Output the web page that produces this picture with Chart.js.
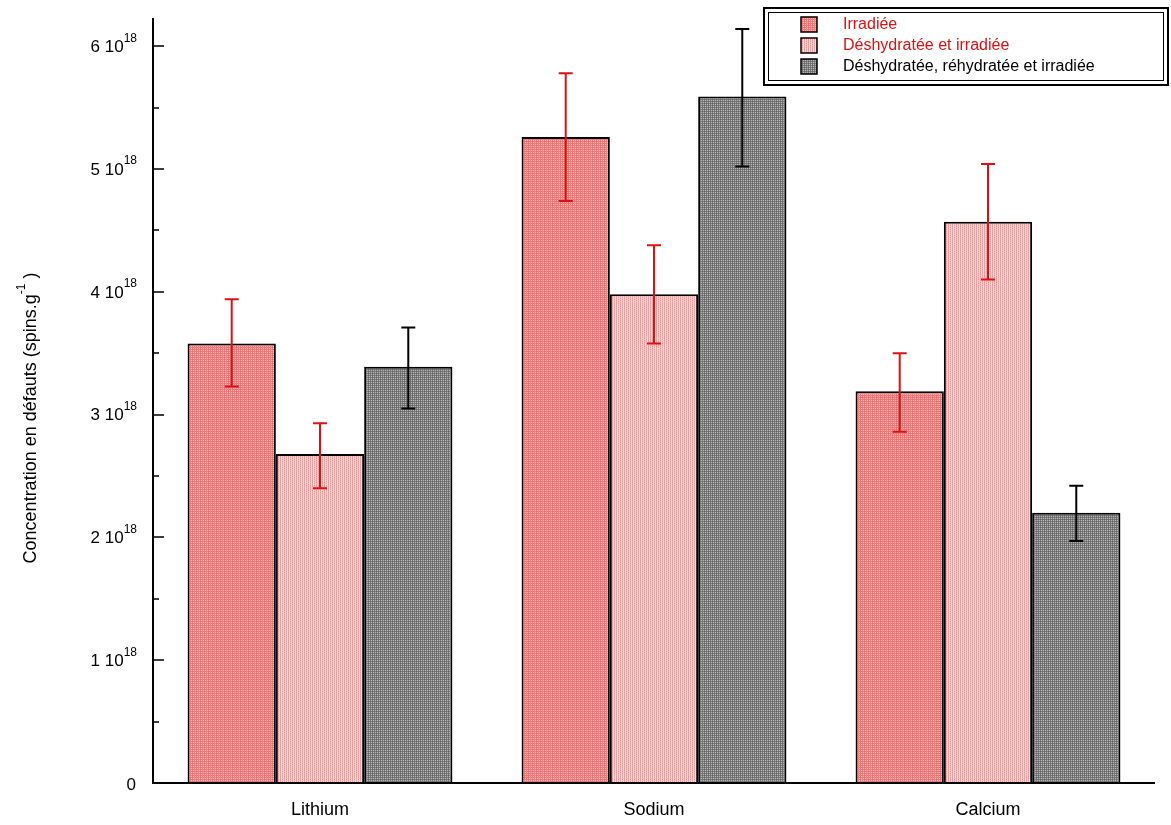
<!DOCTYPE html>
<html>
<head>
<meta charset="utf-8">
<script src="https://cdn.jsdelivr.net/npm/chart.js@4"></script>
<style>
  html, body { margin: 0; padding: 0; background: #fff; }
  #wrap { width: 1171px; height: 825px; }
</style>
</head>
<body>
<div id="wrap"><canvas id="grafik" width="1171" height="825"></canvas></div>
<script>
// donnees (unite : 10^18 spins.g-1)
const categories = ["Lithium", "Sodium", "Calcium"];
const labelsSeries = ["Irradiée", "Déshydratée et irradiée", "Déshydratée, réhydratée et irradiée"];
const irradiee = [3.58, 5.26, 3.19];
const deshydratee = [2.68, 3.98, 4.57];
const rehydratee = [3.39, 5.59, 2.20];
const errIrradiee = [[3.23, 3.94], [4.74, 5.78], [2.86, 3.50]];
const errDeshydratee = [[2.40, 2.93], [3.58, 4.38], [4.10, 5.04]];
const errRehydratee = [[3.05, 3.71], [5.02, 6.14], [1.97, 2.42]];
const tickValues = [0, 1, 2, 3, 4, 5, 6];
const yMax = 6.23;

// motifs de remplissage
function motif(fond, points, pas) {
  let c = document.createElement("canvas");
  c.width = pas; c.height = 2;
  let g = c.getContext("2d");
  g.fillStyle = fond;
  g.fillRect(0, 0, pas, 2);
  for (let p of points) {
    g.fillStyle = p[2];
    g.fillRect(p[0], p[1], 1, 1);
  }
  return g.createPattern(c, "repeat");
}
let ctx = document.getElementById("grafik").getContext("2d");
const fillIrr = motif("#f07c7c", [[1, 0, "#fac4c4"], [3, 0, "#fac4c4"], [0, 1, "#ec6a6a"]], 4);
const fillDesh = motif("#fde4e4", [[0, 0, "#f29494"], [0, 1, "#f4a4a4"], [2, 0, "#f6b4b4"], [2, 1, "#f29494"]], 4);
const fillRehy = motif("#7a7a7a", [[1, 0, "#b4b4b4"], [3, 0, "#b4b4b4"], [0, 1, "#636363"], [2, 1, "#6c6c6c"]], 4);

const couleursTexte = ["#e01010", "#e01010", "#000000"];
const couleursErr = ["#e01010", "#e01010", "#000000"];
const erreurs = [errIrradiee, errDeshydratee, errRehydratee];

const pluginDessin = {
  id: "dessin",
  afterDatasetsDraw(chart) {
    let c = chart.ctx;
    let y = chart.scales.y;
    let area = chart.chartArea;
    c.save();
    // barres d'erreur
    chart.data.datasets.forEach((ds, i) => {
      let meta = chart.getDatasetMeta(i);
      meta.data.forEach((bar, j) => {
        let bas = y.getPixelForValue(erreurs[i][j][0]);
        let haut = y.getPixelForValue(erreurs[i][j][1]);
        c.strokeStyle = couleursErr[i];
        c.lineWidth = 2;
        c.beginPath();
        c.moveTo(bar.x, bas); c.lineTo(bar.x, haut);
        c.moveTo(bar.x - 7, bas); c.lineTo(bar.x + 7, bas);
        c.moveTo(bar.x - 7, haut); c.lineTo(bar.x + 7, haut);
        c.stroke();
      });
    });
    // axes
    c.strokeStyle = "#000";
    c.lineWidth = 2;
    c.beginPath();
    c.moveTo(area.left, area.top); c.lineTo(area.left, area.bottom);
    c.lineTo(area.right, area.bottom);
    c.stroke();
    // graduations
    c.lineWidth = 1.5;
    c.beginPath();
    for (let v = 0; v <= yMax; v += 0.5) {
      let py = Math.round(y.getPixelForValue(v));
      let long = Number.isInteger(v) ? 11 : 6;
      c.moveTo(area.left, py); c.lineTo(area.left + long, py);
    }
    c.stroke();
    // etiquettes de l'axe y
    c.fillStyle = "#000";
    c.textBaseline = "middle";
    for (let v of tickValues) {
      let py = y.getPixelForValue(v);
      if (v === 0) {
        c.font = "17px 'Liberation Sans', Arial, sans-serif";
        c.textAlign = "right";
        c.fillText("0", 136, py + 2);
        continue;
      }
      c.font = "12px 'Liberation Sans', Arial, sans-serif";
      c.textAlign = "left";
      let wSup = c.measureText("18").width;
      c.fillText("18", 137 - wSup, py - 8);
      c.font = "17px 'Liberation Sans', Arial, sans-serif";
      c.textAlign = "right";
      c.fillText(v + " 10", 137 - wSup, py + 1);
    }
    // titre de l'axe y
    c.save();
    c.translate(31, 418);
    c.rotate(-Math.PI / 2);
    let t1 = "Concentration en défauts (spins.g";
    let t2 = ")";
    c.font = "18px 'Liberation Sans', Arial, sans-serif";
    let w1 = c.measureText(t1).width;
    c.font = "12px 'Liberation Sans', Arial, sans-serif";
    let wSup2 = c.measureText("-1").width;
    c.font = "18px 'Liberation Sans', Arial, sans-serif";
    let w2 = c.measureText(" " + t2).width;
    let total = w1 + wSup2 + w2;
    let x0 = -total / 2;
    c.textAlign = "left";
    c.fillText(t1, x0, 0);
    c.font = "12px 'Liberation Sans', Arial, sans-serif";
    c.fillText("-1", x0 + w1, -9);
    c.font = "18px 'Liberation Sans', Arial, sans-serif";
    c.fillText(" " + t2, x0 + w1 + wSup2, 0);
    c.restore();
    // legende
    c.strokeStyle = "#000";
    c.lineWidth = 2;
    c.strokeRect(764, 8, 404, 77);
    c.lineWidth = 1;
    c.strokeRect(768.5, 12.5, 395, 68);
    c.font = "16px 'Liberation Sans', Arial, sans-serif";
    c.textAlign = "left";
    c.textBaseline = "middle";
    chart.data.datasets.forEach((ds, i) => {
      let ly = 25 + i * 21;
      c.fillStyle = ds.backgroundColor;
      c.fillRect(801, ly - 8, 16, 15);
      c.lineWidth = 1.5;
      c.strokeStyle = "#000";
      c.strokeRect(801, ly - 8, 16, 15);
      c.fillStyle = couleursTexte[i];
      c.fillText(ds.label, 843, ly);
    });
    c.restore();
  }
};

new Chart(ctx, {
  type: "bar",
  data: {
    labels: categories,
    datasets: [
      { label: labelsSeries[0], data: irradiee, backgroundColor: fillIrr },
      { label: labelsSeries[1], data: deshydratee, backgroundColor: fillDesh },
      { label: labelsSeries[2], data: rehydratee, backgroundColor: fillRehy }
    ]
  },
  options: {
    responsive: false,
    animation: false,
    devicePixelRatio: 1,
    layout: { padding: { top: 18, right: 16, left: 0, bottom: 0 } },
    datasets: {
      bar: {
        borderColor: "#000",
        borderWidth: 2,
        borderSkipped: "bottom",
        categoryPercentage: 0.793,
        barPercentage: 1
      }
    },
    plugins: {
      legend: { display: false },
      tooltip: { enabled: false }
    },
    scales: {
      x: {
        grid: { display: false },
        border: { display: false },
        ticks: {
          color: "#000",
          font: { family: "'Liberation Sans', Arial, sans-serif", size: 18 },
          padding: 8
        },
        afterFit: s => { s.height = 42; }
      },
      y: {
        min: 0,
        max: yMax,
        grid: { display: false },
        border: { display: false },
        ticks: { display: false },
        afterFit: s => { s.width = 153; }
      }
    }
  },
  plugins: [pluginDessin]
});
</script>
</body>
</html>
